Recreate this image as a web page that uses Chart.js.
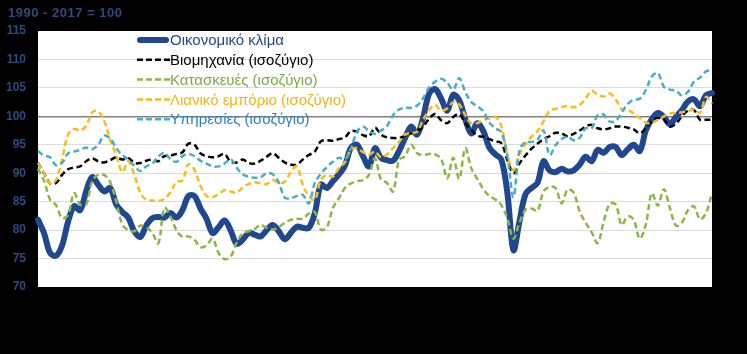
<!DOCTYPE html>
<html>
<head>
<meta charset="utf-8">
<script src="https://cdn.jsdelivr.net/npm/chart.js@4/dist/chart.umd.min.js"></script>
<style>
  body { margin: 0; background: #000; }
  #wrap { width: 747px; height: 354px; position: relative; }
</style>
</head>
<body>
<div id="wrap"><canvas id="myChart"></canvas></div>
<script>
// data, one point per ~6px of plot width
const climate = [81.8,79.5,76,75.5,77.3,81.5,84.2,83.5,86.8,89.3,88,86.8,87.4,84.5,83.2,82.2,79.8,78.8,80.8,82.1,82.3,82.2,83,82.2,83.5,86,86,83.8,82,79.5,80.5,81.7,80,77.6,78.3,79.5,79.2,78.9,80,80.9,79.8,78.4,79.5,80.6,80.4,80.4,83,88,87.4,88.6,89.8,91.3,94.5,95,93,91.2,94.4,92.7,92.3,92.2,93.9,96.2,98.2,96.8,99.8,104,104.8,103.1,101,103.8,102.8,99.5,97,98.8,97.4,94.5,93.3,92.4,86.5,76.5,81.5,86.3,87.4,88.3,92.1,90.5,90.2,90.8,90.3,90.5,91.5,92.9,92.1,94.1,93.6,94.6,94.6,93.2,94.2,95,93.9,97.5,99.5,100.6,99.9,98.6,99.9,101.1,102.6,103,101.8,103.7,104.1];
const industry = [91.8,90,88.2,88.3,89.7,90.7,91,91.2,92.1,92.6,92.1,91.9,92.3,92.8,92.4,92.7,91.8,91.8,92.2,92.4,92.1,93,93.1,93.4,93.7,95.2,95,93.5,93,92.8,93,93.4,92,91.9,92.4,91.8,91.7,92.2,92.9,93.5,92.7,91.9,91.5,91.5,92.4,93.2,93.8,95.6,95.8,95.7,96,96.3,97.4,97.3,96.7,96.5,98,96.8,96.3,96.2,96.2,96.6,97,97.4,98.2,99.6,100.4,99.3,98.8,99.9,100.4,98.8,97.6,96.6,96.4,96,95.6,95.3,92.3,90,91.7,93.1,94.3,95.2,96,96.5,97.1,97,96.5,96.9,97.5,98.2,98.5,97.9,97.7,97.9,98.2,98.2,98,97.7,97,97.9,99.2,99.7,99.5,98.2,98.7,100,101,101.1,99.4,99.4,99.4];
const construction = [90.8,88.7,85.4,84.4,82.1,82.7,86.5,84.5,84.5,88.6,89.7,89.7,88.4,85,81,80,79.8,80.8,80.5,79.5,77.7,83.9,82.4,80,78.8,78.9,78.3,77,77.3,78.5,76,74.9,75.3,77.8,79.4,79.8,80.2,80.9,80.4,80.1,80.5,81.3,81.8,82,82,82.9,83.2,80.1,80.5,83.9,85.6,87.4,88.2,88.6,88.8,89.7,92.6,88.9,88.3,86.8,92.3,93,95,93.5,93.2,93.4,93.3,92.5,89.1,92.7,89,94.4,90.9,89,87.2,86,85.4,84.4,82,78.5,81.3,83.6,83.8,83.4,86.8,87.6,87.4,84.7,87.1,86.6,83.3,81.3,79.6,77.7,81.5,84.6,84.5,80.9,82.4,81.8,78.5,81,86.5,84.3,87.2,83.9,80.8,81.3,83.5,84.2,81.9,83,86.5];
const retail = [91.8,90,88.2,88.8,92.5,96.8,97.8,97.5,98.3,100.7,100.9,99.2,95.8,93.2,90.2,92.1,89.7,86.6,85.3,85.2,85.1,85.5,86.6,88.5,88.7,91.6,90.6,87.8,86,85.8,86.3,87,86.8,86.6,87.5,88.1,88.4,88.2,88.1,88.8,88.3,88.5,90.2,91.2,88,86,85.3,88.8,89.7,89.4,90.9,91.9,94.2,94.4,93.7,93.3,93.8,92.8,93.3,94.4,95.5,96.8,97.1,97.3,99.4,101.1,102,101,101.4,102.5,102.1,100.2,98.8,98.8,99.4,99.6,99.9,98.3,93.2,90.5,93.3,95.1,96.4,97.4,99.1,101,101.3,101.6,101.8,101.6,102,103.1,104.5,103.8,103.5,104,103,101.2,101.1,100.5,99.7,98.9,98.8,99.4,100,100.5,100.6,100.7,100.9,101.2,100.6,103.4,102.2];
const services = [93.9,93.1,92.8,91.4,91.8,93.5,93.8,94.1,94.5,94.2,95,96.6,96.1,94.4,93.2,92.4,91.3,90.4,91.2,91.7,92.9,93.6,92.5,92,93,93.4,93,92.2,91.7,91.2,91.2,91.7,92.5,91,89.8,89.4,89.2,89.3,90,89.8,88.4,85.7,85.6,86,86.2,84.7,88.3,89.9,91.1,92,92.7,92.4,94.4,97.3,98.2,97.4,96.9,97.5,98.3,100.2,101.2,101.5,101.5,101.9,103.2,105.1,106.1,106.6,105.9,104.7,106.7,104.3,102.5,101.8,100.9,98.9,97.9,97.2,93,85.8,94,95.5,95.5,95.9,97.5,93.2,94.9,96,96.4,95.8,96.2,97.9,97.9,100.2,100.3,99.1,99.2,100.7,102.2,102.9,103.1,104.6,107,107.6,105.2,104.7,104.5,103.7,104.3,106.1,106.8,107.9,108.1];
const categories = climate.map((_, i) => String(i + 1));
const yTicks = [70, 75, 80, 85, 90, 95, 100, 105, 110, 115];
const seriesNames = ['Οικονομικό κλίμα', 'Βιομηχανία (ισοζύγιο)', 'Κατασκευές (ισοζύγιο)', 'Λιανικό εμπόριο (ισοζύγιο)', 'Υπηρεσίες (ισοζύγιο)'];
const axisTitle = '1990 - 2017 = 100';

const FONT = '"Liberation Sans", Arial, sans-serif';

// white plot area, title and the legend drawn inside the plot
const framePlugin = {
  id: 'frame',
  beforeDraw(chart) {
    const { ctx, chartArea: a } = chart;
    ctx.save();
    ctx.fillStyle = '#000';
    ctx.fillRect(0, 0, chart.width, chart.height);
    ctx.fillStyle = '#fff';
    ctx.fillRect(a.left, a.top, a.right - a.left, a.bottom - a.top);
    ctx.restore();
  },
  afterDraw(chart) {
    const ctx = chart.ctx;
    ctx.save();
    ctx.font = 'bold 13px ' + FONT;
    ctx.fillStyle = '#2f4a7c';
    ctx.textBaseline = 'middle';
    ctx.letterSpacing = '0.5px';
    ctx.fillText(axisTitle, 8, 13);
    ctx.letterSpacing = '0px';

    ctx.font = '15px ' + FONT;
    chart.data.datasets.forEach((ds, i) => {
      const y = 40 + i * 19.8;
      ctx.strokeStyle = ds.borderColor;
      ctx.lineWidth = ds.borderWidth;
      ctx.lineCap = ds.borderDash ? 'butt' : 'round';
      ctx.setLineDash(ds.borderDash ? [6, 3] : []);
      ctx.beginPath();
      ctx.moveTo(ds.borderDash ? 137 : 140, y);
      ctx.lineTo(ds.borderDash ? 170 : 166, y);
      ctx.stroke();
      ctx.setLineDash([]);
      ctx.fillStyle = ds.textColor;
      ctx.fillText(ds.label, 170, y + 1);
    });
    ctx.restore();
  }
};

const dashed = (label, data, color, textColor, order) => ({
  label, data, borderColor: color, textColor, order,
  borderWidth: 2.5, borderDash: [6, 3.5], pointRadius: 0, tension: 0.35, fill: false
});

new Chart(document.getElementById('myChart'), {
  type: 'line',
  data: {
    labels: categories,
    datasets: [
      { label: seriesNames[0], data: climate, borderColor: '#21478f', textColor: '#25479a', order: 5,
        borderWidth: 6, pointRadius: 0, tension: 0.35, fill: false, borderCapStyle: 'round', borderJoinStyle: 'round' },
      dashed(seriesNames[1], industry, '#000000', '#000000', 4),
      dashed(seriesNames[2], construction, '#8cb646', '#7aab45', 3),
      dashed(seriesNames[3], retail, '#f8bc1c', '#f5b315', 2),
      dashed(seriesNames[4], services, '#4aacc8', '#2f7fc0', 1)
    ]
  },
  options: {
    responsive: true,
    maintainAspectRatio: false,
    animation: false,
    layout: { padding: { top: 31, right: 35, bottom: 67, left: 0 } },
    plugins: { legend: { display: false }, tooltip: { enabled: false } },
    scales: {
      x: { display: false, offset: false },
      y: {
        min: 70, max: 115,
        afterFit: (scale) => { scale.width = 38; },
        afterBuildTicks: (scale) => { scale.ticks = yTicks.map(v => ({ value: v })); },
        border: { display: false },
        grid: {
          drawTicks: false,
          color: (c) => c.tick && c.tick.value === 100 ? '#808080' : (c.tick && (c.tick.value === 70 || c.tick.value === 115) ? 'rgba(0,0,0,0)' : '#dadada'),
          lineWidth: (c) => c.tick && c.tick.value === 100 ? 1.5 : 1
        },
        ticks: {
          padding: 12,
          color: '#2f4a7c',
          font: { family: FONT, size: 12, weight: 'bold' }
        }
      }
    }
  },
  plugins: [framePlugin]
});
</script>
</body>
</html>
